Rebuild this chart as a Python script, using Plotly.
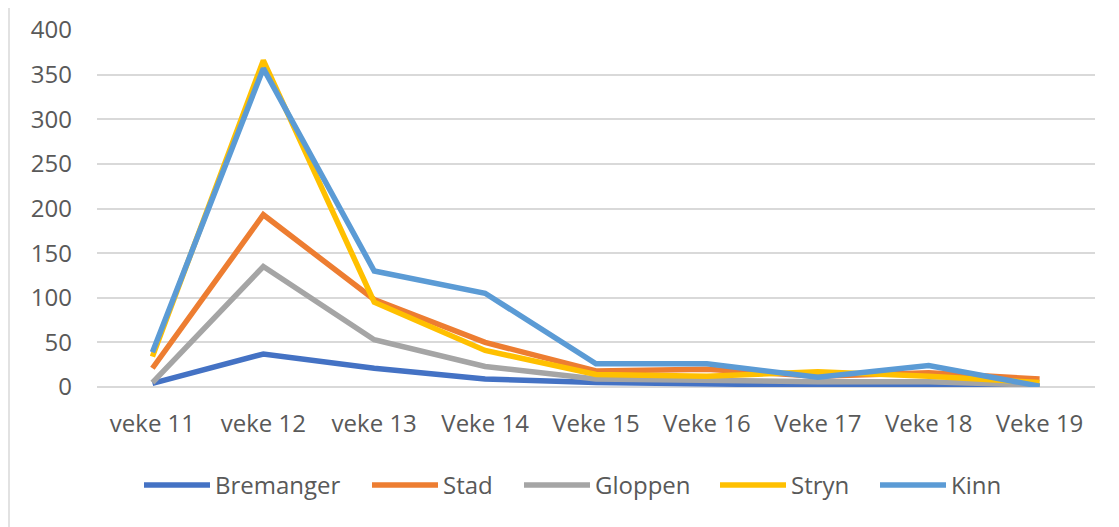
import plotly.graph_objects as go

weeks = ["veke 11", "veke 12", "veke 13", "Veke 14", "Veke 15",
         "Veke 16", "Veke 17", "Veke 18", "Veke 19"]

bremanger = [4, 37, 21, 9, 5, 3, 2, 2, 1]
stad = [21, 193, 98, 50, 18, 20, 12, 16, 9]
gloppen = [5, 135, 53, 23, 9, 7, 6, 6, 2]
stryn = [34, 366, 95, 41, 14, 12, 17, 12, 5]
kinn = [39, 357, 130, 105, 26, 26, 11, 24, 1]

series_names = ["Bremanger", "Stad", "Gloppen", "Stryn", "Kinn"]
series_values = [bremanger, stad, gloppen, stryn, kinn]
colors = ["#4472C4", "#ED7D31", "#A5A5A5", "#FFC000", "#5B9BD5"]

y_ticks = [0, 50, 100, 150, 200, 250, 300, 350, 400]

# page offset from the browser's default body margin
OFF = 8
# legend key start positions (page pixels) for the custom legend layout
legend_key_px = [144, 372, 524, 720, 880]

fig = go.Figure()
for name, vals, col in zip(series_names, series_values, colors):
    fig.add_trace(go.Scatter(
        x=weeks, y=vals, name=name, mode="lines",
        line=dict(color=col, width=5.5),
        showlegend=False,
    ))

W, H = 1119 - OFF, 527 - OFF
ml, mt = 97 - OFF, 30 - OFF
plot_right, plot_bottom = 1095 - OFF, 387 - OFF
mr, mb = W - plot_right, H - plot_bottom
pw = W - ml - mr
ph = H - mt - mb


def px_x(p):
    return (p - OFF - ml) / pw


def px_y(p):
    return (H - mb - (p - OFF)) / ph


shapes = [dict(
    type="line", xref="paper", yref="paper",
    x0=px_x(9), x1=px_x(9), y0=px_y(527), y1=px_y(OFF),
    line=dict(color="#D9D9D9", width=1.5),
)]
annotations = []
leg_y = 485
for name, col, xs in zip(series_names, colors, legend_key_px):
    shapes.append(dict(
        type="line", xref="paper", yref="paper",
        x0=px_x(xs), x1=px_x(xs + 66), y0=px_y(leg_y), y1=px_y(leg_y),
        line=dict(color=col, width=5.5),
    ))
    annotations.append(dict(
        xref="paper", yref="paper", x=px_x(xs + 69), y=px_y(leg_y),
        xanchor="left", yanchor="middle", text=name, showarrow=False,
        font=dict(family="Open Sans", size=24, color="#595959"),
    ))

fig.update_layout(
    width=W, height=H,
    margin=dict(l=ml, r=mr, t=mt, b=mb, pad=0),
    paper_bgcolor="white", plot_bgcolor="white",
    font=dict(family="Open Sans", size=24, color="#595959"),
    showlegend=False,
    xaxis=dict(
        type="category", range=[-0.5, 8.5], showgrid=False,
        showline=False, zeroline=False, ticks="",
        ticklabelstandoff=20, automargin=False,
    ),
    yaxis=dict(
        range=[0, 400], tickvals=y_ticks, showgrid=True,
        gridcolor="#D9D9D9", gridwidth=1.5, zeroline=True,
        zerolinecolor="#D9D9D9", zerolinewidth=1.5,
        showline=False, ticks="", ticklabelstandoff=24,
        automargin=False,
    ),
    shapes=shapes,
    annotations=annotations,
)

fig.write_html("out.html")
